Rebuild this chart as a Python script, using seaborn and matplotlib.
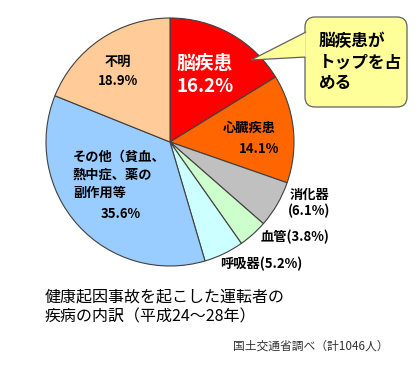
import matplotlib
matplotlib.use("Agg")
import matplotlib.pyplot as plt
import seaborn as sns
from matplotlib.patches import FancyBboxPatch, Polygon

sns.set_theme(style="white")
plt.rcParams['font.family'] = ['Noto Sans CJK JP', 'DejaVu Sans']

# data (clockwise from top)
categories = ['脳疾患', '心臓疾患', '消化器', '血管', '呼吸器', 'その他', '不明']
shares = [16.2, 14.1, 6.1, 3.8, 5.2, 35.6, 18.9]
colors = ['#FF0000', '#FF6600', '#C0C0C0', '#CCFFCC', '#CCFFFF', '#99CCFF', '#FFCC99']

W, H = 420, 368
fig = plt.figure(figsize=(4.2, 3.68), dpi=100)
ax = fig.add_axes([0, 0, 1, 1])

# pie in pixel-like coordinates (y measured from bottom)
cx, cy, r = 170, H - 142, 124
ax.pie(shares, colors=colors, startangle=90, counterclock=False,
       center=(cx, cy), radius=r,
       wedgeprops=dict(edgecolor='#404040', linewidth=0.8))
ax.set_xlim(0, W)
ax.set_ylim(0, H)
ax.set_aspect('equal')
ax.axis('off')

def px(x, y):
    return x, H - y

lab = dict(fontsize=9.5, fontweight='bold', color='black')

# 脳疾患 label
ax.text(*px(177, 63), categories[0], ha='left', va='center', fontsize=13.5,
        fontweight='bold', color='white')
ax.text(*px(177, 86), f'{shares[0]}%', ha='left', va='center', fontsize=13.5,
        fontweight='bold', color='white')

ax.text(*px(249, 128), categories[1], ha='center', va='center', **lab)
ax.text(*px(259, 149), f'{shares[1]}%', ha='center', va='center', **lab)

ax.text(*px(310, 195), categories[2], ha='center', va='center', **lab)
ax.text(*px(309, 211), f'({shares[2]}%)', ha='center', va='center', **lab)

ax.text(*px(295, 237), f'{categories[3]}({shares[3]}%)', ha='center', va='center', **lab)
ax.text(*px(261, 264), f'{categories[4]}({shares[4]}%)', ha='center', va='center', **lab)

ax.text(*px(73, 175), 'その他（貧血、\n熱中症、薬の\n副作用等', ha='left', va='center',
        linespacing=1.35, **lab)
ax.text(*px(121, 214), f'{shares[5]}%', ha='center', va='center', **lab)

ax.text(*px(118, 62), categories[6], ha='center', va='center', **lab)
ax.text(*px(118, 81), f'{shares[6]}%', ha='center', va='center', **lab)

# callout bubble
bx0, by0, bx1, by1 = 305, 17, 407, 107
box = FancyBboxPatch((bx0, H - by1), bx1 - bx0, by1 - by0,
                     boxstyle='round,pad=0,rounding_size=10',
                     facecolor='#FFFF99', edgecolor='#606060', linewidth=0.9, zorder=3)
ax.add_patch(box)
tail = Polygon([px(306, 32), px(251, 60), px(306, 57)], closed=True,
               facecolor='#FFFF99', edgecolor='#606060', linewidth=0.9, zorder=3)
ax.add_patch(tail)
ax.plot([305.5, 305.5], [H - 32.8, H - 56.2], color='#FFFF99', linewidth=1.8, zorder=4)
ax.text(*px(319, 62), '脳疾患が\nトップを占\nめる', ha='left', va='center',
        fontsize=12, fontweight='bold', color='black', linespacing=1.2, zorder=5)

# caption
ax.text(*px(45, 307), '健康起因事故を起こした運転者の\n疾病の内訳（平成24～28年）',
        ha='left', va='center', fontsize=11.5, color='black', linespacing=1.3)
ax.text(*px(388, 346), '国土交通省調べ（計1046人）', ha='right', va='center',
        fontsize=8.5, color='#333333')

fig.savefig('out.png', dpi=100)
